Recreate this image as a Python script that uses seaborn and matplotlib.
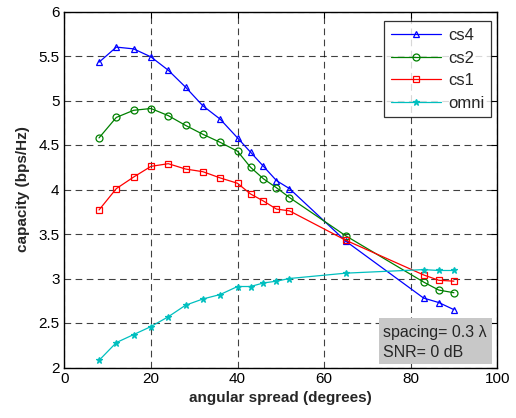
import matplotlib
matplotlib.use("Agg")
import matplotlib.pyplot as plt
from matplotlib.patches import Rectangle
import seaborn as sns
import pandas as pd

angles = [8, 12, 16, 20, 24, 28, 32, 36, 40, 43, 46, 49, 52, 65, 83, 86.5, 90]
cs4 = [5.43, 5.60, 5.58, 5.49, 5.34, 5.15, 4.94, 4.79, 4.58, 4.42, 4.26, 4.10, 4.01, 3.42, 2.78, 2.73, 2.65]
cs2 = [4.58, 4.81, 4.89, 4.91, 4.83, 4.72, 4.62, 4.53, 4.43, 4.25, 4.12, 4.02, 3.91, 3.48, 2.96, 2.87, 2.84]
cs1 = [3.77, 4.01, 4.14, 4.26, 4.29, 4.23, 4.20, 4.13, 4.07, 3.95, 3.87, 3.78, 3.76, 3.43, 3.04, 2.98, 2.97]
omni = [2.08, 2.28, 2.37, 2.46, 2.57, 2.70, 2.77, 2.82, 2.91, 2.91, 2.95, 2.97, 3.00, 3.06, 3.10, 3.09, 3.09]
series_names = ["cs4", "cs2", "cs1", "omni"]
xticks = [0, 20, 40, 60, 80, 100]
yticks = [2, 2.5, 3, 3.5, 4, 4.5, 5, 5.5, 6]
ytick_labels = ["2", "2.5", "3", "3.5", "4", "4.5", "5", "5.5", "6"]

sns.set_style("white")
plt.rcParams["font.family"] = ["Liberation Sans", "DejaVu Sans"]

colors = {"cs4": "#0000ff", "cs2": "#008000", "cs1": "#ff0000", "omni": "#00bfbf"}
markers = {"cs4": "^", "cs2": "o", "cs1": "s", "omni": "*"}
values = {"cs4": cs4, "cs2": cs2, "cs1": cs1, "omni": omni}

fig = plt.figure(figsize=(5.16, 4.18), dpi=100)
ax = fig.add_axes([64.4 / 516, 1 - 367.5 / 418, (497.2 - 64.4) / 516, (367.5 - 11.5) / 418])

for name in series_names:
    df = pd.DataFrame({"angle": angles, "capacity": values[name]})
    sns.lineplot(data=df, x="angle", y="capacity", ax=ax, color=colors[name],
                 marker=markers[name], markersize=5 if name != "omni" else 5,
                 markerfacecolor="none" if name != "omni" else colors[name],
                 markeredgecolor=colors[name], markeredgewidth=0.9,
                 linewidth=0.9, label=name)

ax.set_xlim(0, 100)
ax.set_ylim(2, 6)
ax.set_xticks(xticks)
ax.set_yticks(yticks)
ax.set_yticklabels(ytick_labels)
ax.tick_params(direction="in", length=4, top=True, right=True, labelsize=11, colors="black", width=0.8)
ax.grid(True, color="black", linestyle=(0, (6, 4)), linewidth=0.8, alpha=0.75)
for sp in ax.spines.values():
    sp.set_color("black")
    sp.set_linewidth(1.0)

ax.set_xlabel("angular spread (degrees)", fontsize=11, fontweight="bold", labelpad=3)
ax.set_ylabel("capacity (bps/Hz)", fontsize=11, fontweight="bold", labelpad=6)

leg = ax.legend(loc="upper right", bbox_to_anchor=(0.985, 0.972), fontsize=12,
                frameon=True, fancybox=False, edgecolor="black", handlelength=3.0,
                borderpad=0.4, labelspacing=0.45, handletextpad=0.4, borderaxespad=0.0)
leg.get_frame().set_linewidth(0.9)

ax.add_patch(Rectangle((0.727, 0.01), 0.261, 0.129, transform=ax.transAxes,
                       facecolor="#c8c8c8", edgecolor="none", zorder=5))
ax.text(0.735, 0.097, "spacing= 0.3 λ", transform=ax.transAxes, fontsize=11.5,
        ha="left", va="center", zorder=6)
ax.text(0.735, 0.042, "SNR= 0 dB", transform=ax.transAxes, fontsize=11.5,
        ha="left", va="center", zorder=6)

fig.savefig("out.png", dpi=100)
